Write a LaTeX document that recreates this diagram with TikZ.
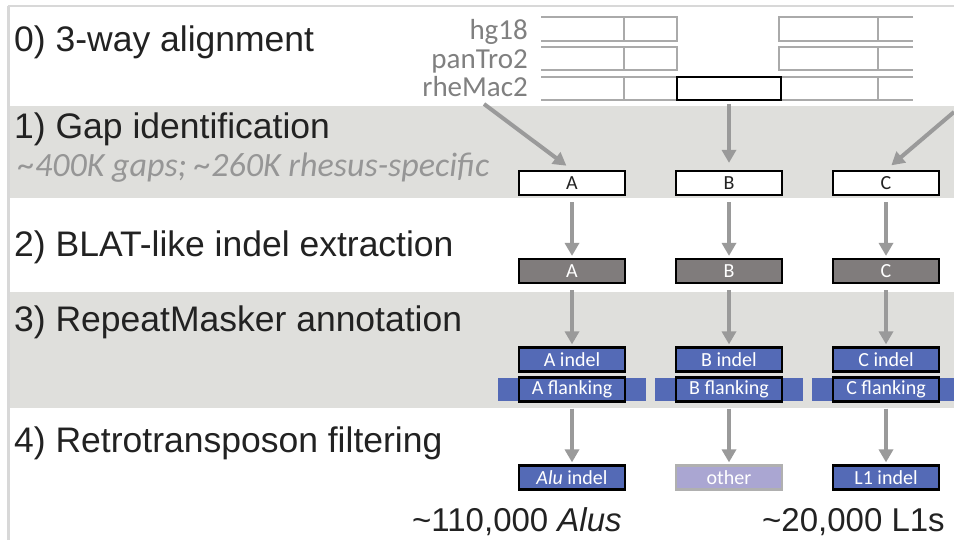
\documentclass[tikz,border=0pt]{standalone}
\usepackage{fontspec}
\setmainfont{Liberation Sans}
\newfontfamily\calfont{Carlito}
\usetikzlibrary{arrows.meta}
\definecolor{bandgray}{RGB}{223,223,220}
\definecolor{framegray}{RGB}{216,216,216}
\definecolor{linegray}{RGB}{170,170,170}
\definecolor{arrowgray}{RGB}{154,154,154}
\definecolor{txtdark}{RGB}{34,34,34}
\definecolor{subgray}{RGB}{150,150,150}
\definecolor{labgray}{RGB}{128,128,128}
\definecolor{boxblue}{RGB}{84,106,182}
\definecolor{boxdark}{RGB}{128,124,124}
\definecolor{otherfill}{RGB}{170,166,210}
\definecolor{otherdraw}{RGB}{176,176,176}
\tikzset{
  steplabel/.style={anchor=base west, inner sep=0pt, text=txtdark, font=\fontsize{35.5}{40}\selectfont},
  countlabel/.style={anchor=base west, inner sep=0pt, text=txtdark, font=\fontsize{33}{38}\selectfont},
  alnlabel/.style={anchor=base east, inner sep=0pt, text=labgray, font=\calfont\fontsize{29}{32}\selectfont},
  sbox/.style={draw=black, line width=2.2pt, minimum width=106pt, minimum height=24pt, inner sep=0pt, font=\calfont\fontsize{20}{22}\selectfont},
  gapbox/.style={sbox, fill=white, text=txtdark},
  blatbox/.style={sbox, fill=boxdark, text=white},
  bluebox/.style={sbox, fill=boxblue, text=white},
  otherbox/.style={sbox, fill=otherfill, draw=otherdraw, text=white},
  flankbar/.style={fill=boxblue, minimum width=148pt, minimum height=23pt, inner sep=0pt},
  flow/.style={draw=arrowgray, line width=4pt, -{Triangle[width=14pt,length=13pt]}},
  aln/.style={draw=linegray, line width=2pt}
}
\begin{document}
\begin{tikzpicture}[x=1pt,y=-1pt]
\useasboundingbox (0,0) rectangle (954,540);
\fill[white] (0,0) rectangle (954,540);
% bands
\fill[bandgray] (8,106) rectangle (954,198);
\fill[bandgray] (8,292) rectangle (954,408);
% frame
\draw[framegray, line width=3pt] (8,6) -- (8,540);
\draw[framegray, line width=1.5pt] (8,6) -- (954,6);
% step labels
\node[steplabel] (l0) at (14,52) {0) 3-way alignment};
\node[steplabel] (l1) at (14,139) {1) Gap identification};
\node[anchor=base west, inner sep=0pt, text=subgray, font=\calfont\itshape\fontsize{34}{38}\selectfont] (l1s) at (18,177) {\char`\~400K gaps; \char`\~260K rhesus-specific};
\node[steplabel] (l2) at (14,257) {2) BLAT-like indel extraction};
\node[steplabel] (l3) at (14,332) {3) RepeatMasker annotation};
\node[steplabel] (l4) at (14,452) {4) Retrotransposon filtering};
% alignment
\node[alnlabel] (hg) at (528,40) {hg18};
\node[alnlabel] (pt) at (528,69) {panTro2};
\node[alnlabel] (rm) at (528,97) {rheMac2};
\foreach \t/\b in {17/41,47/70} {
  \draw[aln] (541,\t) -- (677,\t) -- (677,\b) -- (541,\b);
  \draw[aln] (624,\t) -- (624,\b);
  \draw[aln] (913,\t) -- (779,\t) -- (779,\b) -- (913,\b);
  \draw[aln] (878,\t) -- (878,\b);
}
\draw[aln] (541,77) -- (677,77);
\draw[aln] (541,100) -- (677,100);
\draw[aln] (624,77) -- (624,100);
\draw[aln] (780,77) -- (913,77);
\draw[aln] (780,100) -- (913,100);
\draw[aln] (878,77) -- (878,100);
\node[draw=black, line width=2pt, minimum width=104pt, minimum height=23pt, inner sep=0pt] (gap) at (729,88.5) {};
% row 1
\node[gapbox] (A1) at (572,183) {A};
\node[gapbox] (B1) at (729,183) {B};
\node[gapbox] (C1) at (886,183) {C};
% row 2
\node[blatbox] (A2) at (572,271) {A};
\node[blatbox] (B2) at (729,271) {B};
\node[blatbox] (C2) at (886,271) {C};
% row 3
\node[flankbar] (Abar) at (572,389.5) {};
\node[flankbar] (Bbar) at (729,389.5) {};
\node[flankbar] (Cbar) at (886,389.5) {};
\node[bluebox] (A3) at (572,359.5) {A indel};
\node[bluebox] (B3) at (729,359.5) {B indel};
\node[bluebox] (C3) at (886,359.5) {C indel};
\node[bluebox] (A3f) at (572,389.5) {A flanking};
\node[bluebox] (B3f) at (729,389.5) {B flanking};
\node[bluebox] (C3f) at (886,389.5) {C flanking};
% row 4
\node[bluebox] (A4) at (572,477.5) {\textit{Alu} indel};
\node[otherbox] (B4) at (729,477.5) {other};
\node[bluebox] (C4) at (886,477.5) {L1 indel};
% counts
\node[countlabel] (na) at (412,531) {\char`\~110,000 \textit{Alus}};
\node[countlabel] (nl) at (762,531) {\char`\~20,000 L1s};
% arrows
\coordinate (sA) at (484,104);
\coordinate (sB) at (729,104);
\coordinate (sC) at (954,112);
\draw[flow, shorten >=7pt] (sA) -- (A1.north);
\draw[flow, shorten >=7pt] (sB) -- (B1.north);
\draw[flow, shorten >=7pt] (sC) -- (C1.north);
\foreach \u/\v in {A1/A2,B1/B2,C1/C2,A2/A3,B2/B3,C2/C3,A3f/A4,B3f/B4,C3f/C4}
  \draw[flow, shorten <=6pt, shorten >=2pt] (\u.south) -- (\v.north);
\end{tikzpicture}
\end{document}
